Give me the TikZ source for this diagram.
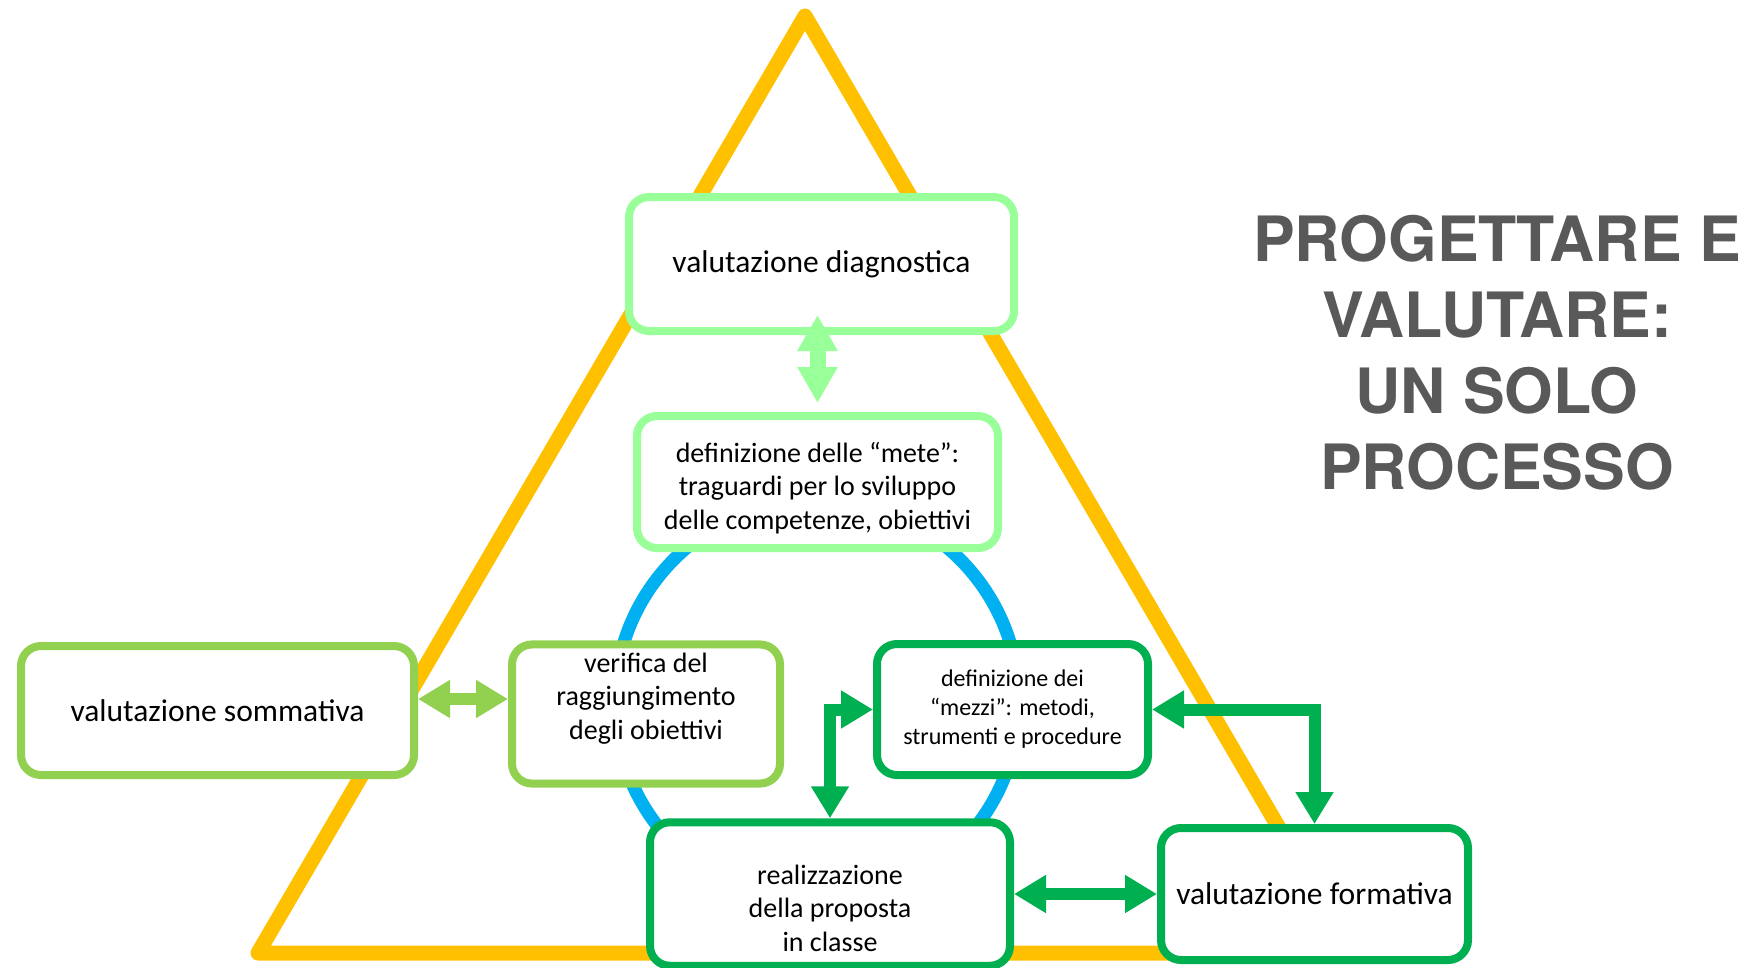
\documentclass[tikz,border=0pt]{standalone}
\usepackage{fontspec}
\setmainfont{Carlito}
\newfontfamily\headfont{TeX Gyre Heros}
\usepackage{tikz}
\usetikzlibrary{positioning, shapes, arrows.meta, shadows, calc}
\definecolor{goldline}{RGB}{255,192,0}
\definecolor{cyanline}{RGB}{0,176,240}
\definecolor{mintgreen}{RGB}{153,255,153}
\definecolor{leafgreen}{RGB}{146,208,80}
\definecolor{darkgreen}{RGB}{0,176,80}
\definecolor{titlegray}{RGB}{89,89,89}
\tikzstyle{bx}=[%
      rectangle, rounded corners=20pt, line width=8pt, fill=white,
      drop shadow={opacity=0.18, shadow xshift=2pt, shadow yshift=-3pt},
      align=center, inner sep=4pt
]
\tikzstyle{big}=[%
      bx, font=\fontsize{31.5}{38}\selectfont
]
\tikzstyle{mid}=[%
      bx, font=\fontsize{28}{33.7}\selectfont
]
\tikzstyle{sml}=[%
      bx, font=\fontsize{24}{29}\selectfont
]
\tikzstyle{dbl}=[%
      line width=12pt, arrows={Triangle[length=32pt,width=36pt]-Triangle[length=32pt,width=36pt]}
]

\begin{document}
\begin{tikzpicture}[x=1pt, y=-1pt]
    \useasboundingbox (0,0) rectangle (1762,967);

    % triangle and cycle
    \draw[goldline, line width=15pt, line join=round] (805,16) -- (258,953) -- (1352,953) -- cycle;
    \draw[cyanline, line width=13pt] (817,702) circle (202);

    \node[big, draw=mintgreen, minimum width=385pt, minimum height=134pt] (diag) at (821.5,264) {valutazione diagnostica};
    \node[mid, draw=mintgreen, minimum width=361pt, minimum height=132pt] (mete) at (817.5,482)
        {\begin{tabular}{@{}c@{}}\rule{0pt}{37.6pt}definizione delle “mete”:\\traguardi per lo sviluppo\\delle competenze, obiettivi\end{tabular}};
    \node[big, draw=leafgreen, minimum width=393pt, minimum height=129pt] (somm) at (217.5,710.5) {valutazione sommativa};
    \node[mid, draw=leafgreen, minimum width=268pt, minimum height=130pt] (verif) at (646,714)
        {\begin{tabular}{@{}c@{}}verifica del\\raggiungimento\\degli obiettivi\\[30pt]\end{tabular}};
    \node[sml, draw=darkgreen, minimum width=271pt, minimum height=131pt] (mezzi) at (1012.5,709.5)
        {definizione dei\\“mezzi”: metodi,\\strumenti e procedure};
    \node[mid, draw=darkgreen, minimum width=360pt, minimum height=132pt] (realizz) at (830,894)
        {\begin{tabular}{@{}c@{}}\rule{0pt}{58pt}realizzazione\\della proposta\\in classe\end{tabular}};
    \node[big, draw=darkgreen, minimum width=307pt, minimum height=132pt] (formativa) at (1314.5,894) {valutazione formativa};

    \node[font=\headfont\bfseries\fontsize{62.5}{76}\selectfont, text=titlegray, align=center] (title) at (1497,353)
        {PROGETTARE E\\VALUTARE:\\UN SOLO\\PROCESSO};

    % connectors
    \draw[dbl, mintgreen, line width=16pt, arrows={Triangle[length=36pt,width=38pt]-Triangle[length=36pt,width=38pt]}]
        ($(mete.north |- diag.south)+(0,-20)$) -- ($(mete.north)+(0,-9)$);
    \draw[dbl, leafgreen] ($(somm.east)+(0,-11.5)$) -- ($(somm.east -| verif.west)+(0,-11.5)$);
    \draw[dbl, darkgreen] (mezzi.west) -| (realizz.north);
    \draw[dbl, darkgreen] (mezzi.east) -| (formativa.north);
    \draw[dbl, darkgreen] (realizz) -- (formativa);
\end{tikzpicture}
\end{document}
